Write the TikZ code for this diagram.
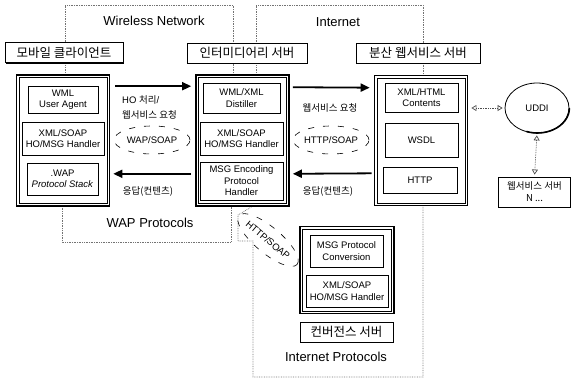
\documentclass[tikz,border=0pt]{standalone}
\usepackage{fontspec}
\setmainfont{Liberation Sans}
\newfontfamily\kr{Noto Sans CJK KR}
\usetikzlibrary{arrows.meta,shapes.geometric,shadows}
\begin{document}
\begin{tikzpicture}[x=1pt,y=-1pt,
 inbox/.style={draw, line width=0.9pt, fill=white, align=center, inner sep=0pt, font=\fontsize{9.5}{11.5}\selectfont},
 outbox/.style={draw, line width=1.6pt, fill=white, inner sep=0pt},
 innerline/.style={line width=0.6pt},
 tagbox/.style={draw, line width=0.8pt, fill=white, inner sep=0pt, font=\kr\fontsize{12.5}{14}\selectfont, drop shadow={shadow xshift=1.3pt, shadow yshift=-1.3pt, fill=black, opacity=1}},
 region/.style={draw=black!55, line width=0.7pt, densely dotted},
 bigarrow/.style={line width=1.8pt, -{Triangle[length=9pt,width=8pt]}},
 bracket/.style={line width=0.6pt, dash pattern=on 6pt off 9pt},
 lbl/.style={inner sep=1pt, font=\fontsize{9.5}{11.5}\selectfont},
 title/.style={inner sep=0pt, font=\fontsize{13}{15}\selectfont},
 dblarrow/.style={draw=black!70, line width=0.7pt, densely dotted, {Triangle[open,length=5pt,width=6pt]}-{Triangle[open,length=5pt,width=6pt]}, shorten <=2pt, shorten >=2pt}
]
\useasboundingbox (0,0) rectangle (571,380);
\fill[white] (0,0) rectangle (571,380);

% region outlines
\draw[region] (65,76) -- (65,5) -- (233,5) -- (233,76);
\draw[region] (256,76) -- (256,5) -- (423,5) -- (423,76);
\draw[region] (62,206) -- (62,242) -- (231,242) -- (231,206);
\draw[region] (253,206) -- (238,215) -- (238,241) -- (253,241) -- (253,377) -- (423,377) -- (423,206);

% titles
\node[title] (wn) at (154,21) {Wireless Network};
\node[title] (inet) at (338,22) {Internet};
\node[title] (wp) at (150,223) {WAP Protocols};
\node[title] (ip) at (336,357) {Internet Protocols};

% outer server boxes
\node[outbox, minimum width=93pt, minimum height=131pt] (mob) at (63,140.5) {};
\node[outbox, minimum width=93pt, minimum height=131pt] (inter) at (242.5,140.5) {};
\node[outbox, minimum width=93pt, minimum height=130pt] (web) at (421,140.5) {};
\node[outbox, minimum width=94pt, minimum height=87pt] (conv) at (347,270) {};
\foreach \n in {mob,inter,web,conv}
  \draw[innerline] ([xshift=3.2pt,yshift=-3.2pt]\n.north west) rectangle ([xshift=-3.2pt,yshift=3.2pt]\n.south east);

% tag boxes
\node[tagbox, minimum width=118pt, minimum height=20pt] (lmob) at (64,52.5) {모바일 클라이언트};
\node[tagbox, minimum width=120pt, minimum height=20pt] (linter) at (247,53) {인터미디어리 서버};
\node[tagbox, minimum width=124pt, minimum height=20pt] (lweb) at (418,53) {분산 웹서비스 서버};
\node[tagbox, minimum width=93pt, minimum height=20pt] (lconv) at (346.5,332) {컨버전스 서버};

% inner boxes: mobile client
\node[inbox, minimum width=70pt, minimum height=27pt] (ua) at (63,99.5) {WML\\User Agent};
\node[inbox, minimum width=82pt, minimum height=33pt] (mh1) at (63,138.5) {XML/SOAP\\HO/MSG Handler};
\node[inbox, minimum width=71pt, minimum height=32pt] (ps) at (62.5,179) {.WAP\\\textit{Protocol Stack}};
% intermediary server
\node[inbox, minimum width=77pt, minimum height=30pt] (ds) at (241.5,98) {WML/XML\\Distiller};
\node[inbox, minimum width=83pt, minimum height=33pt] (mh2) at (241.5,138.5) {XML/SOAP\\HO/MSG Handler};
\node[inbox, minimum width=83pt, minimum height=38pt] (me) at (241.5,181) {MSG Encoding\\Protocol\\Handler};
% web service server
\node[inbox, minimum width=73pt, minimum height=29pt] (xc) at (421.5,97.5) {XML/HTML\\Contents};
\node[inbox, minimum width=73pt, minimum height=34pt] (wsdl) at (421.5,140) {WSDL};
\node[inbox, minimum width=74pt, minimum height=26pt] (http) at (420,180) {HTTP};
% convergence server
\node[inbox, minimum width=73pt, minimum height=32pt] (mc) at (346.5,251) {MSG Protocol\\Conversion};
\node[inbox, minimum width=82pt, minimum height=32pt] (mh3) at (347,291) {XML/SOAP\\HO/MSG Handler};

% UDDI and web service server N
\node[draw, ellipse, line width=0.8pt, minimum width=64pt, minimum height=50pt, inner sep=0pt, font=\fontsize{9.5}{11}\selectfont] (uddi) at (537,108) {UDDI};
\draw[line width=1.6pt] (uddi.east) arc[start angle=0, end angle=-110, x radius=32pt, y radius=25pt];
\node[inbox, minimum width=72pt, minimum height=30pt, font=\kr\fontsize{9.5}{12}\selectfont] (nbox) at (534.5,192) {웹서비스 서버\\N ...};

% main arrows
\draw[bigarrow, shorten <=5pt, shorten >=4pt] ([yshift=-12pt]mob.north east) -- ([yshift=-12pt]inter.north west);
\draw[bigarrow, shorten <=4pt, shorten >=3pt] ([yshift=33pt]inter.south west) -- ([yshift=33pt]mob.south east);
\draw[bigarrow, shorten <=3pt, shorten >=4pt] ([yshift=-13pt]inter.north east) -- ([yshift=-13pt]web.north west);
\draw[bigarrow, shorten <=2pt, shorten >=3pt] ([yshift=33pt]web.south west) -- ([yshift=33pt]inter.south east);

% arrow labels
\node[lbl, anchor=west, align=left, font=\fontsize{9.5}{15}\selectfont] (req1) at (121,107) {HO {\kr 처리}/\\{\kr 웹서비스 요청}};
\node[lbl, font=\kr\fontsize{9.5}{11}\selectfont] (req2) at (330,108) {웹서비스 요청};
\node[lbl, font=\kr\fontsize{9.5}{11}\selectfont] (res1) at (148,192) {응답(컨텐츠)};
\node[lbl, font=\kr\fontsize{9.5}{11}\selectfont] (res2) at (328,192) {응답(컨텐츠)};

% protocol brackets
\node[lbl] (wap) at (152,140) {WAP/SOAP};
\node[lbl] (hs) at (331,140) {HTTP/SOAP};
\node[lbl, rotate=-40] (hs3) at (268,240) {HTTP/SOAP};
\draw[bracket] (wap.center) ellipse [x radius=38pt, y radius=14pt];
\draw[bracket] (hs.center) ellipse [x radius=38pt, y radius=14pt];
\draw[bracket, rotate around={-40:(hs3.center)}] (hs3.center) ellipse [x radius=38pt, y radius=13pt];

% UDDI links
\draw[dblarrow] ([xshift=11pt,yshift=-10.5pt]xc.east) -- (uddi.west);
\draw[dblarrow] (uddi.south) -- (nbox.north);
\end{tikzpicture}
\end{document}
